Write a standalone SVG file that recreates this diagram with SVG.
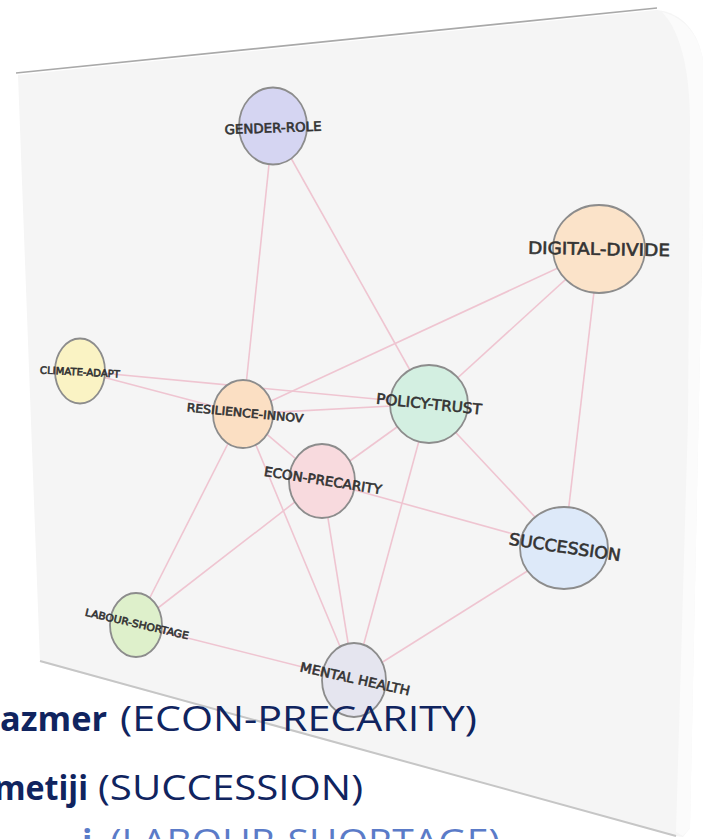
<svg xmlns="http://www.w3.org/2000/svg" width="703" height="839" viewBox="0 0 703 839">
<style>
.edge{stroke:#efc5d1;stroke-width:1.6;fill:none}
.node ellipse{stroke:#8c8c8c;stroke-width:1.8}
.lbl{font-family:"DejaVu Sans",sans-serif;fill:#333333;stroke:#333333;stroke-width:0.6;text-anchor:middle}
.cap{font-family:"Open Sans","Noto Sans",sans-serif;font-size:34px;fill:#10245f}
.b{font-weight:bold}
</style>
<rect width="703" height="839" fill="#ffffff"/>
<g id="panel">
<path d="M18,75 L657,10 C683,13 698,32 703,60 L703,210 L690,828 L683,837 L675,836 L40,662 Z" fill="#f5f5f5"/>
<path d="M662,12 C686,18 699,36 703,60 L703,210 L690,828 L683,836 L676,832 L688,420 L690,120 C690,70 680,30 662,12 Z" fill="#fbfbfb"/>
<line x1="16" y1="73" x2="657" y2="8" stroke="#a9a9a9" stroke-width="1.6"/>
<line x1="40" y1="661" x2="676" y2="836" stroke="#c6c6c6" stroke-width="2"/>
</g>
<g id="connectors">
<line class="edge" x1="273" y1="126" x2="243" y2="414"/>
<line class="edge" x1="273" y1="126" x2="429" y2="404"/>
<line class="edge" x1="599" y1="249" x2="243" y2="414"/>
<line class="edge" x1="599" y1="249" x2="429" y2="404"/>
<line class="edge" x1="599" y1="249" x2="564" y2="548"/>
<line class="edge" x1="80" y1="371" x2="243" y2="414"/>
<line class="edge" x1="80" y1="371" x2="429" y2="404"/>
<line class="edge" x1="243" y1="414" x2="429" y2="404"/>
<line class="edge" x1="243" y1="414" x2="322" y2="481"/>
<line class="edge" x1="243" y1="414" x2="136" y2="625"/>
<line class="edge" x1="243" y1="414" x2="354" y2="680"/>
<line class="edge" x1="429" y1="404" x2="322" y2="481"/>
<line class="edge" x1="429" y1="404" x2="564" y2="548"/>
<line class="edge" x1="429" y1="404" x2="354" y2="680"/>
<line class="edge" x1="322" y1="481" x2="564" y2="548"/>
<line class="edge" x1="322" y1="481" x2="136" y2="625"/>
<line class="edge" x1="322" y1="481" x2="354" y2="680"/>
<line class="edge" x1="564" y1="548" x2="354" y2="680"/>
<line class="edge" x1="136" y1="625" x2="354" y2="680"/>
</g>
<g id="n-gender-role" class="node">
<ellipse cx="273" cy="126" rx="34" ry="38.5" fill="#d5d5f2"/>
<text class="lbl" x="273" y="132.5" font-size="13" textLength="97" lengthAdjust="spacingAndGlyphs" transform="rotate(-2 273 128)">GENDER-ROLE</text>
</g>
<g id="n-digital-divide" class="node">
<ellipse cx="599" cy="249" rx="46" ry="44" fill="#fbe3c9"/>
<text class="lbl" x="599" y="255" font-size="17" textLength="142" lengthAdjust="spacingAndGlyphs" transform="rotate(1 599 249)">DIGITAL-DIVIDE</text>
</g>
<g id="n-climate-adapt" class="node">
<ellipse cx="80" cy="371" rx="25" ry="32.5" fill="#faf3c4"/>
<text class="lbl" x="80" y="375.5" font-size="10" textLength="80" lengthAdjust="spacingAndGlyphs" transform="rotate(3 80 372)">CLIMATE-ADAPT</text>
</g>
<g id="n-resilience-innov" class="node">
<ellipse cx="243" cy="414" rx="30" ry="34" fill="#fbdfc3"/>
<text class="lbl" x="245" y="417" font-size="11.5" textLength="117" lengthAdjust="spacingAndGlyphs" transform="rotate(5.5 245 413)">RESILIENCE-INNOV</text>
</g>
<g id="n-policy-trust" class="node">
<ellipse cx="429" cy="404" rx="39" ry="39" fill="#d3efe1"/>
<text class="lbl" x="429" y="409" font-size="14.5" textLength="106" lengthAdjust="spacingAndGlyphs" transform="rotate(6 429 404)">POLICY-TRUST</text>
</g>
<g id="n-econ-precarity" class="node">
<ellipse cx="322" cy="481" rx="33" ry="37" fill="#f8dade"/>
<text class="lbl" x="323" y="485" font-size="13" textLength="119" lengthAdjust="spacingAndGlyphs" transform="rotate(9 323 480)">ECON-PRECARITY</text>
</g>
<g id="n-succession" class="node">
<ellipse cx="564" cy="548" rx="44" ry="41" fill="#dde9f9"/>
<text class="lbl" x="565" y="553" font-size="16.5" textLength="113" lengthAdjust="spacingAndGlyphs" transform="rotate(8.5 565 547)">SUCCESSION</text>
</g>
<g id="n-labour-shortage" class="node">
<ellipse cx="136" cy="625" rx="26" ry="32" fill="#def0cb"/>
<text class="lbl" x="137" y="627.5" font-size="10" textLength="106" lengthAdjust="spacingAndGlyphs" transform="rotate(13 137 624)">LABOUR-SHORTAGE</text>
</g>
<g id="n-mental-health" class="node">
<ellipse cx="354" cy="680" rx="32" ry="37" fill="#e5e5ef"/>
<text class="lbl" x="355" y="683.5" font-size="13" textLength="112" lengthAdjust="spacingAndGlyphs" transform="rotate(12.5 355 679)">MENTAL HEALTH</text>
</g>
<g id="caption">
<text class="cap b" x="0" y="731" textLength="107" lengthAdjust="spacingAndGlyphs">azmer</text>
<text class="cap" x="120" y="731" textLength="357" lengthAdjust="spacingAndGlyphs">(ECON-PRECARITY)</text>
<text class="cap b" x="-6" y="800" textLength="94" lengthAdjust="spacingAndGlyphs">metiji</text>
<text class="cap" x="98" y="800" textLength="265" lengthAdjust="spacingAndGlyphs">(SUCCESSION)</text>
<text class="cap b" x="82" y="854" style="fill:#5b7bc8">i</text>
<text class="cap" x="110" y="854" textLength="390" lengthAdjust="spacingAndGlyphs" style="fill:#5b7bc8">(LABOUR-SHORTAGE)</text>
</g>
</svg>
